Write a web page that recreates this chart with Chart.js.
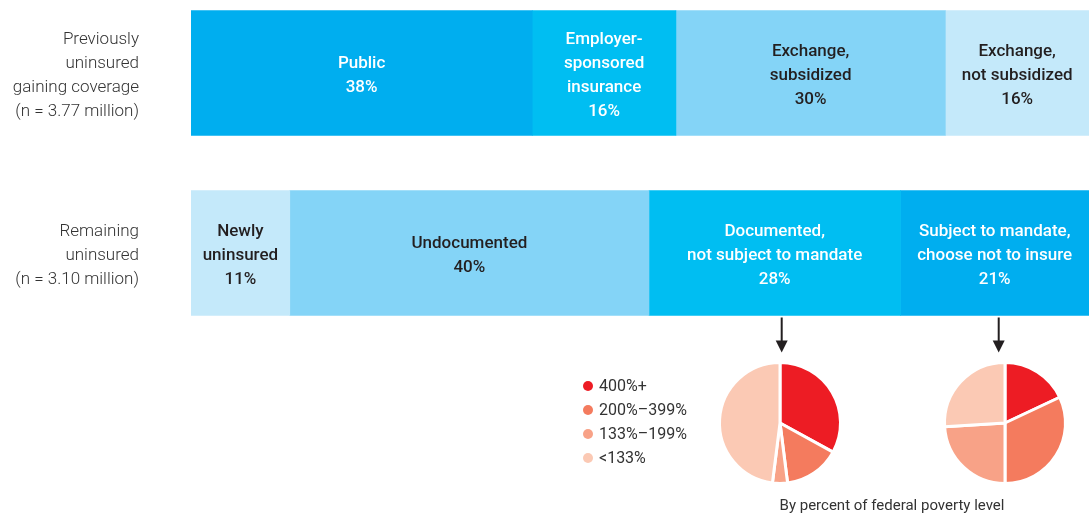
<!DOCTYPE html>
<html>
<head>
<meta charset="utf-8">
<script src="https://cdn.jsdelivr.net/npm/chart.js@4"></script>
<style>
  html, body { margin: 0; padding: 0; background: #fff; overflow: hidden; }
  #wrap { position: relative; width: 1089px; height: 515px; }
  .box { position: absolute; }
</style>
</head>
<body>
<div id="wrap">
  <div class="box" style="left:0;top:-17px;width:1089px;height:532px"><canvas id="bars"></canvas></div>
  <div class="box" style="left:710px;top:353px;width:140px;height:140px"><canvas id="pieDoc"></canvas></div>
  <div class="box" style="left:935px;top:353px;width:140px;height:140px"><canvas id="pieMandate"></canvas></div>
</div>
<script>
// ── data ──────────────────────────────────────────────────────────────────────
const rowLabels = [
  ['Previously', 'uninsured', 'gaining coverage', '(n = 3.77 million)'],
  ['Remaining', 'uninsured', '(n = 3.10 million)'],
];

const coverageLabels = [['Public'], ['Employer-', 'sponsored', 'insurance'], ['Exchange,', 'subsidized'], ['Exchange,', 'not subsidized']];
const coverageValues = [38, 16, 30, 16];

const uninsuredLabels = [['Newly', 'uninsured'], ['Undocumented'], ['Documented,', 'not subject to mandate'], ['Subject to mandate,', 'choose not to insure']];
const uninsuredValues = [11, 40, 28, 21];

const povertyLabels = ['400%+', '200%–399%', '133%–199%', '<133%'];
const documentedFpl = [33, 15, 4, 48];
const mandateFpl    = [18, 32, 24, 26];

const caption = 'By percent of federal poverty level';

// ── styles ────────────────────────────────────────────────────────────────────
const coverageColors  = ['#00AEEF', '#00BEF2', '#84D4F7', '#C4E9FA'];
const uninsuredColors = ['#C4E9FA', '#84D4F7', '#00BEF2', '#00AEEF'];
const povertyColors   = ['#ED1C24', '#F47B5E', '#F8A287', '#FBC9B4'];
const LIGHT = ['#84D4F7', '#C4E9FA'];
const INK   = '#231F20';
const GREY  = '#333333';
const LINE  = 24;
const NUDGE = 3;   // Roboto sits a little high with middle baseline

// ── bar labels + extras plugin ────────────────────────────────────────────────
const segmentLabels = {
  id: 'segmentLabels',
  afterDatasetsDraw(chart) {
    const ctx = chart.ctx;
    const yScale = chart.scales.y;
    ctx.save();
    ctx.textBaseline = 'middle';

    // row labels, right aligned left of the bars
    ctx.font = '300 17px Roboto';
    ctx.textAlign = 'right';
    ctx.fillStyle = GREY;
    chart.data.labels.forEach((lines, i) => {
      const cy = yScale.getPixelForValue(i) + NUDGE;
      const top = cy - (lines.length - 1) * LINE / 2;
      lines.forEach((t, k) => ctx.fillText(t, chart.chartArea.left - 52, top + k * LINE));
    });

    // segment labels
    ctx.font = '500 17px Roboto';
    ctx.textAlign = 'center';
    chart.data.datasets.forEach((ds, i) => {
      chart.getDatasetMeta(i).data.forEach((bar, j) => {
        const lines = ds.labelLines[j].concat([ds.data[j] + '%']);
        const cx = (bar.x + bar.base) / 2;
        const top = bar.y + NUDGE - (lines.length - 1) * LINE / 2;
        ctx.fillStyle = LIGHT.includes(ds.backgroundColor[j]) ? INK : '#FFFFFF';
        lines.forEach((t, k) => ctx.fillText(t, cx, top + k * LINE));
      });
    });

    // arrows down to the pies
    const docBar = chart.getDatasetMeta(2).data[1];
    const manBar = chart.getDatasetMeta(3).data[1];
    const ax = [(docBar.x + docBar.base) / 2 + 7, (manBar.x + manBar.base) / 2 + 4];
    const yTop = docBar.y + 125 / 2 + 2;
    ctx.strokeStyle = INK;
    ctx.fillStyle = INK;
    ctx.lineWidth = 2;
    ax.forEach(x => {
      ctx.beginPath();
      ctx.moveTo(x, yTop);
      ctx.lineTo(x, yTop + 27);
      ctx.stroke();
      ctx.beginPath();
      ctx.moveTo(x - 6, yTop + 23);
      ctx.lineTo(x + 6, yTop + 23);
      ctx.lineTo(x, yTop + 35);
      ctx.closePath();
      ctx.fill();
    });

    // legend
    ctx.textAlign = 'left';
    ctx.font = '16px Roboto';
    povertyLabels.forEach((t, k) => {
      const y = 403 + k * LINE;
      ctx.fillStyle = povertyColors[k];
      ctx.beginPath();
      ctx.arc(588, y, 5, 0, Math.PI * 2);
      ctx.fill();
      ctx.fillStyle = GREY;
      ctx.fillText(t, 599, y + 1);
    });

    // caption
    ctx.font = '15px Roboto';
    ctx.textAlign = 'center';
    ctx.fillText(caption, 892, 523);
    ctx.restore();
  },
};

new Chart(document.getElementById('bars'), {
  type: 'bar',
  data: {
    labels: rowLabels,
    datasets: coverageValues.map((v, i) => ({
      data: [v, uninsuredValues[i]],
      labelLines: [coverageLabels[i], uninsuredLabels[i]],
      backgroundColor: [coverageColors[i], uninsuredColors[i]],
      borderWidth: 0,
      barThickness: 125,
    })),
  },
  options: {
    indexAxis: 'y',
    responsive: true,
    maintainAspectRatio: false,
    animation: false,
    events: [],
    layout: { padding: { bottom: 172 } },
    plugins: { legend: { display: false }, tooltip: { enabled: false } },
    scales: {
      x: { stacked: true, min: 0, max: 100, display: false },
      y: {
        stacked: true,
        grid: { display: false, drawTicks: false },
        border: { display: false },
        ticks: { display: false },
        afterFit(scale) {
          scale.width = 191;
          scale.paddingTop = 0;
          scale.paddingBottom = 0;
        },
      },
    },
  },
  plugins: [segmentLabels],
});

function makePie(id, values) {
  new Chart(document.getElementById(id), {
    type: 'pie',
    data: {
      labels: povertyLabels,
      datasets: [{
        data: values,
        backgroundColor: povertyColors,
        borderColor: '#FFFFFF',
        borderWidth: 3,
      }],
    },
    options: {
      responsive: true,
      maintainAspectRatio: false,
      animation: false,
      events: [],
      layout: { padding: 8 },
      plugins: { legend: { display: false }, tooltip: { enabled: false } },
    },
  });
}

makePie('pieDoc', documentedFpl);
makePie('pieMandate', mandateFpl);
</script>
</body>
</html>
